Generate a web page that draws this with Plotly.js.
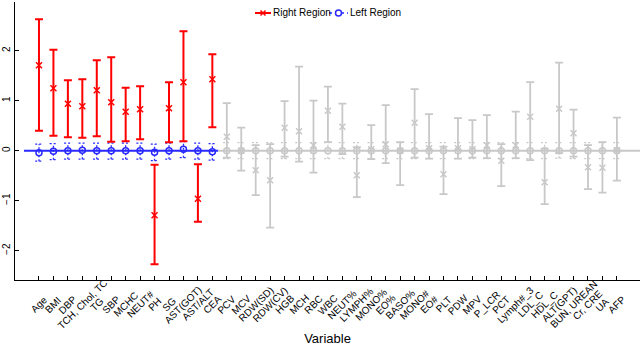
<!DOCTYPE html>
<html>
<head>
<meta charset="utf-8">
<script src="https://cdn.plot.ly/plotly-3.0.1.min.js"></script>
<style>
  html, body { margin: 0; padding: 0; background: #fff; }
  #chart { width: 640px; height: 346px; }
</style>
</head>
<body>
<div id="chart"></div>
<script>
// variables on the x axis, the first 13 are the highlighted ones
var variables = ["Age", "BMI", "DBP", "TCH, Chol, TC", "TG", "SBP", "MCHC", "NEUT#", "PH", "SG",
  "AST(GOT)", "AST/ALT", "CEA", "PCV", "MCV", "RDW(SD)", "RDW(CV)", "HGB", "MCH", "RBC", "WBC",
  "NEUT%", "LYMPH%", "MONO%", "EO%", "BASO%", "MONO#", "EO#", "PLT", "PDW", "MPV", "P_LCR", "PCT",
  "Lymph#_3", "LDL_C", "HDL_C", "ALT(GPT)", "BUN, UREAN", "Cr, CRE", "UA", "AFP"];
var nHighlight = 13;

// right region: estimate and interval
var rightMean = [1.71, 1.25, 0.94, 0.89, 1.21, 0.97, 0.78, 0.83, -1.29, 0.85, 1.37, -0.96, 1.43,
  0.28, 0.00, -0.39, -0.59, 0.46, 0.39, 0.11, 0.80, 0.48, -0.49, 0.03, 0.13, 0.00, 0.56, 0.05,
  -0.47, 0.05, 0.03, 0.11, -0.20, 0.11, 0.68, -0.63, 0.84, 0.35, -0.33, -0.34, 0.01];
var rightLo = [0.40, 0.30, 0.27, 0.26, 0.29, 0.18, 0.19, 0.23, -2.27, 0.17, 0.19, -1.42, 0.47,
  -0.14, -0.40, -0.89, -1.54, -0.12, -0.22, -0.44, 0.17, -0.07, -0.93, -0.17, -0.25, -0.69, -0.14, -0.16,
  -0.87, -0.16, -0.14, -0.15, -0.71, -0.15, -0.19, -1.07, -0.05, -0.12, -0.77, -0.84, -0.60];
var rightHi = [2.63, 2.02, 1.41, 1.43, 1.81, 1.87, 1.26, 1.29, -0.28, 1.37, 2.39, -0.27, 1.93,
  0.95, 0.46, 0.11, 0.13, 0.99, 1.68, 1.00, 1.28, 0.94, 0.07, 0.51, 0.91, 0.17, 1.23, 0.73,
  0.08, 0.65, 0.61, 0.71, 0.13, 0.78, 1.37, 0.04, 1.76, 0.82, 0.11, 0.17, 0.66];

// left region: estimate and interval
var leftMean = [-0.04, -0.01, 0.00, 0.01, 0.00, 0.00, 0.00, 0.00, -0.03, 0.00, 0.03, 0.00, -0.02,
  0.00, 0.00, 0.00, 0.00, 0.00, 0.00, 0.00, 0.00, 0.00, 0.00, 0.00, 0.00, 0.00, 0.00, 0.00,
  0.00, 0.00, 0.00, 0.00, 0.00, 0.00, 0.00, 0.00, 0.00, 0.00, 0.00, 0.00, 0.00];
var leftLo = [-0.21, -0.18, -0.17, -0.17, -0.17, -0.17, -0.17, -0.17, -0.20, -0.17, -0.14, -0.17, -0.19,
  -0.16, -0.16, -0.16, -0.16, -0.16, -0.16, -0.16, -0.16, -0.16, -0.16, -0.16, -0.16, -0.16, -0.16, -0.16,
  -0.16, -0.16, -0.16, -0.16, -0.16, -0.16, -0.16, -0.16, -0.15, -0.16, -0.16, -0.16, -0.16];
var leftHi = [0.13, 0.14, 0.15, 0.15, 0.15, 0.15, 0.15, 0.15, 0.13, 0.15, 0.18, 0.15, 0.14,
  0.16, 0.16, 0.16, 0.16, 0.16, 0.16, 0.16, 0.16, 0.16, 0.16, 0.16, 0.16, 0.16, 0.16, 0.16,
  0.16, 0.16, 0.16, 0.16, 0.16, 0.16, 0.16, 0.16, 0.16, 0.16, 0.16, 0.16, 0.16];

var RED = "rgb(255,0,0)", BLUE = "rgb(40,40,255)", GRAY = "rgb(200,200,200)";
var idx = variables.map(function (v, i) { return i; });

function part(arr, hi) { return hi ? arr.slice(0, nHighlight) : arr.slice(nHighlight); }

// solid bars with x markers (right region)
function rightTrace(hi) {
  var m = part(rightMean, hi), col = hi ? RED : GRAY;
  return {
    x: part(idx, hi), y: m, mode: "markers", type: "scatter", showlegend: false, hoverinfo: "skip",
    marker: { symbol: "x-thin-open", size: 6, color: col, line: { width: 1.5, color: col } },
    error_y: {
      type: "data", symmetric: false,
      array: part(rightHi, hi).map(function (v, i) { return v - m[i]; }),
      arrayminus: m.map(function (v, i) { return v - part(rightLo, hi)[i]; }),
      color: col, thickness: hi ? 2 : 1.8, width: 4
    }
  };
}

// dashed bars for the left region, built as line segments
function leftBars(hi) {
  var xs = [], ys = [], c = 0.26;
  part(idx, hi).forEach(function (xi, k) {
    var lo = part(leftLo, hi)[k], up = part(leftHi, hi)[k];
    xs.push(xi, xi, null, xi - c, xi + c, null, xi - c, xi + c, null);
    ys.push(lo, up, null, lo, lo, null, up, up, null);
  });
  return {
    x: xs, y: ys, mode: "lines", type: "scatter", showlegend: false, hoverinfo: "skip",
    line: { color: hi ? BLUE : GRAY, width: 1.3, dash: "2px,2px" }
  };
}
function leftPoints(hi) {
  var col = hi ? BLUE : GRAY;
  return {
    x: part(idx, hi), y: part(leftMean, hi), mode: "markers", type: "scatter", showlegend: false,
    hoverinfo: "skip",
    marker: { symbol: "circle-open", size: 6, color: col, line: { width: 1.5, color: col } }
  };
}

var data = [
  leftBars(false), rightTrace(false), leftPoints(false),
  leftBars(true), rightTrace(true), leftPoints(true)
];

// hand-made compact legend (pixel positions converted to paper units)
var L = 15, W = 625, T = 2, H = 278;
function px(v) { return (v - L) / W; }
function py(v) { return (T + H - v) / H; }
var ly = 13;
var legendShapes = [
  { type: "line", xref: "paper", yref: "paper", x0: px(255), x1: px(271), y0: py(ly), y1: py(ly), line: { color: RED, width: 2 } },
  { type: "line", xref: "paper", yref: "paper", x0: px(260.5), x1: px(265.5), y0: py(ly - 2.5), y1: py(ly + 2.5), line: { color: RED, width: 1.5 } },
  { type: "line", xref: "paper", yref: "paper", x0: px(260.5), x1: px(265.5), y0: py(ly + 2.5), y1: py(ly - 2.5), line: { color: RED, width: 1.5 } },
  { type: "line", xref: "paper", yref: "paper", x0: px(329), x1: px(348), y0: py(ly), y1: py(ly), line: { color: BLUE, width: 1.5, dash: "3px,3px" } },
  { type: "circle", xref: "paper", yref: "paper", x0: px(335.5), x1: px(341.5), y0: py(ly - 3), y1: py(ly + 3), line: { color: BLUE, width: 1.5 }, fillcolor: "#fff" }
];
var annotations = [
  { xref: "paper", yref: "paper", x: px(271), y: py(ly), xanchor: "left", yanchor: "middle", showarrow: false, text: "Right Region", font: { size: 10 } },
  { xref: "paper", yref: "paper", x: px(348), y: py(ly), xanchor: "left", yanchor: "middle", showarrow: false, text: "Left Region", font: { size: 10 } }
];

// x tick labels: rotated and centred on their tick, as the original does
variables.forEach(function (v, i) {
  annotations.push({ xref: "x", yref: "paper", x: i, y: py(304.5), xanchor: "center", yanchor: "middle",
    textangle: -45, showarrow: false, text: v, font: { size: 10 } });
});

var layout = {
  width: 640, height: 346,
  margin: { l: L, r: 640 - L - W, t: T, b: 346 - T - H },
  paper_bgcolor: "#fff", plot_bgcolor: "#fff",
  font: { family: "Liberation Sans, Arial, sans-serif", size: 10, color: "#000" },
  showlegend: false,
  shapes: [
    { type: "line", xref: "x", yref: "y", x0: -1.04, x1: nHighlight - 0.6, y0: 0, y1: 0,
      line: { color: BLUE, width: 2 }, layer: "below" },
    { type: "line", xref: "x", yref: "y", x0: nHighlight - 0.6, x1: 42, y0: 0, y1: 0,
      line: { color: GRAY, width: 2 }, layer: "below" }
  ].concat(legendShapes),
  annotations: annotations,
  xaxis: {
    range: [-1.66, 41.6], tickmode: "array", tickvals: idx, showticklabels: false,
    ticks: "inside", ticklen: 4, tickcolor: "#000",
    showline: true, linecolor: "#000", linewidth: 1, showgrid: false, zeroline: false,
    automargin: false, fixedrange: true,
    title: { text: "Variable", font: { size: 13 }, standoff: 55 }
  },
  yaxis: {
    range: [-2.586, 2.974], tickvals: [-2, -1, 0, 1, 2], ticktext: ["\u22122", "\u22121", "0", "1", "2"],
    tickangle: -90, ticks: "inside", ticklen: 4, tickcolor: "#000",
    showline: true, linecolor: "#000", linewidth: 1, showgrid: false, zeroline: false,
    automargin: false, fixedrange: true
  }
};

Plotly.newPlot("chart", data, layout, { displayModeBar: false, staticPlot: true });
</script>
</body>
</html>
